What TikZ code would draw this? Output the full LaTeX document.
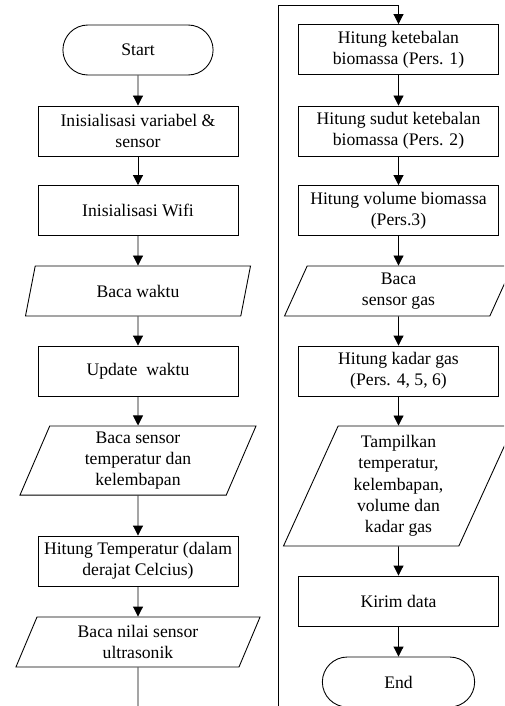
\documentclass[tikz,border=0pt]{standalone}
\usepackage{fontspec}
\setmainfont{Liberation Serif}
\usetikzlibrary{shapes.geometric,shapes.misc,arrows.meta}
\tikzstyle{base}=[draw, line width=0.6pt, align=center, font=\fontsize{12}{14.5}\selectfont]
\tikzstyle{terminal}=[base, rounded rectangle, minimum width=108.8pt, minimum height=34pt]
\tikzstyle{process}=[base, rectangle, minimum width=136pt, minimum height=34pt, inner sep=2pt]
\tikzstyle{io}=[base, trapezium, trapezium left angle=62, trapezium right angle=118, trapezium stretches body=true, minimum width=153pt, minimum height=34pt, inner xsep=1pt, inner ysep=2pt]
\tikzstyle{flow}=[line width=0.6pt, -{Triangle[length=6.8pt,width=6.8pt]}]
\tikzstyle{line}=[line width=0.6pt]

\begin{document}
\begin{tikzpicture}[x=0.68pt, y=-0.68pt]
			\useasboundingbox (0,0) rectangle (504,706);
			\clip (0,0) rectangle (504,706);
			% kolom kiri
			\node[terminal] (start) at (138, 50) {Start};
			\node[process] (init) at (138, 131) {Inisialisasi variabel \&\\sensor};
			\node[process] (wifi) at (138, 210.5) {Inisialisasi Wifi};
			\node[io] (waktu) at (138, 291) {Baca waktu};
			\node[process] (update) at (138, 371) {Update\ \ waktu};
			\node[io, minimum width=160.5pt, minimum height=47pt, trapezium left angle=65, trapezium right angle=115] (suhu) at (138, 460.5) {Baca sensor\\temperatur dan\\kelembapan};
			\node[process] (celcius) at (138, 561) {Hitung Temperatur (dalam\\derajat Celcius)};
			\node[io, minimum width=166pt] (ultra) at (138, 642) {Baca nilai sensor\\ultrasonik};
			\coordinate (cutL) at (138, 712);
			% kolom kanan
			\node[process] (tebal) at (398.5, 49.5) {Hitung ketebalan\\biomassa (Pers. 1)};
			\node[process] (sudut) at (398.5, 131) {Hitung sudut ketebalan\\biomassa (Pers. 2)};
			\node[process] (volume) at (398.5, 210.5) {Hitung volume biomassa\\(Pers.3)};
			\node[io, minimum width=155pt] (gas) at (398.5, 291) {Baca\\sensor gas};
			\node[process] (kadar) at (398.5, 371) {Hitung kadar gas\\(Pers. 4, 5, 6)};
			\node[io, minimum width=156.4pt, minimum height=81.6pt, trapezium left angle=63, trapezium right angle=117] (tampil) at (398.5, 486) {Tampilkan\\temperatur,\\kelembapan,\\volume dan\\kadar gas};
			\node[process] (kirim) at (398.5, 601) {Kirim data};
			\node[terminal, minimum width=110.2pt] (end) at (398.5, 682) {End};
			\coordinate (cutR) at (278, 712);
			\coordinate (turn) at (278, 5);
			\draw[flow] (start)edge(init) (init)edge(wifi) (wifi)edge(waktu) (waktu)edge(update) (update)edge(suhu) (suhu)edge(celcius) (celcius)edge(ultra) ;
			\draw[line] (ultra)--(cutL) ;
			\draw[flow] (cutR)--(turn)-|(tebal) ;
			\draw[flow] (tebal)edge(sudut) (sudut)edge(volume) (volume)edge(gas) (gas)edge(kadar) (kadar)edge(tampil) (tampil)edge(kirim) (kirim)edge(end) ;
		\end{tikzpicture}
\end{document}
